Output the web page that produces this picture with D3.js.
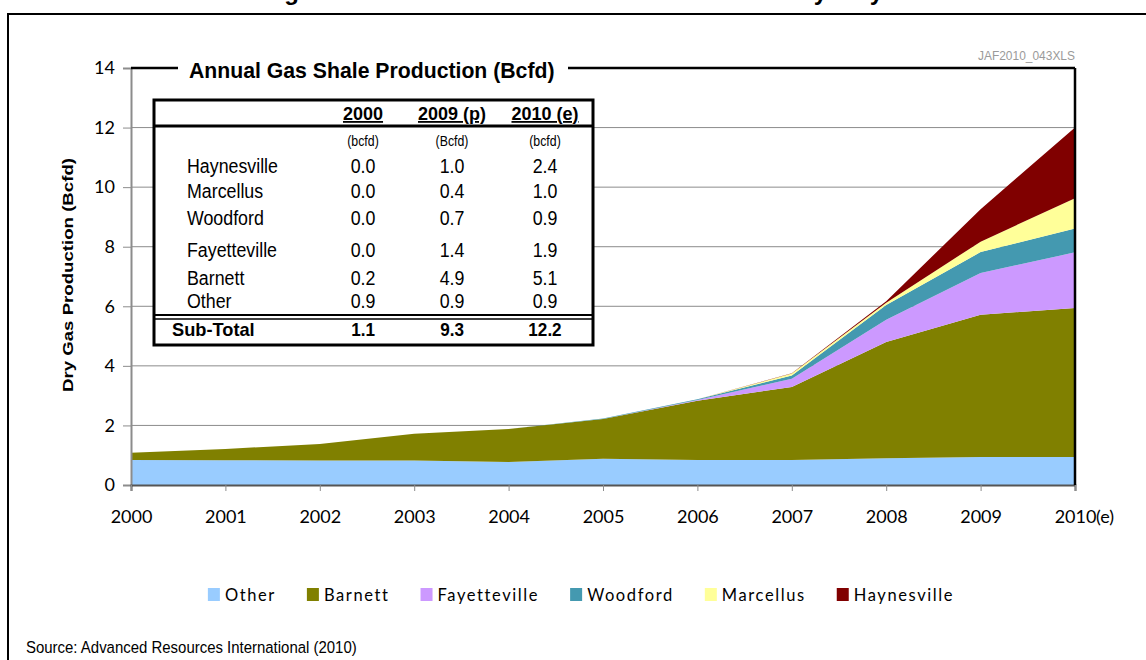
<!DOCTYPE html>
<html>
<head>
<meta charset="utf-8">
<script src="https://cdn.jsdelivr.net/npm/d3@7"></script>
<style>
  body { margin: 0; background: #fff; }
  svg { display: block; }
  text { font-family: "Liberation Sans", Arial, sans-serif; }
  .tick text { font-family: Lato, "Open Sans", sans-serif; font-size: 18px; fill: #000; }
</style>
</head>
<body>
<svg id="chart"></svg>
<script>
// chart data (Bcfd)
var years = [2000, 2001, 2002, 2003, 2004, 2005, 2006, 2007, 2008, 2009, 2010];
var other        = [0.84, 0.83, 0.82, 0.82, 0.77, 0.88, 0.84, 0.84, 0.90, 0.94, 0.94];
var barnett      = [0.24, 0.38, 0.56, 0.90, 1.11, 1.34, 1.99, 2.45, 3.90, 4.78, 5.00];
var fayetteville = [0, 0, 0, 0, 0, 0, 0.02, 0.28, 0.75, 1.40, 1.87];
var woodford     = [0, 0, 0, 0, 0, 0.01, 0.03, 0.11, 0.49, 0.70, 0.80];
var marcellus    = [0, 0, 0, 0, 0, 0, 0, 0.06, 0.08, 0.35, 1.02];
var haynesville  = [0, 0, 0, 0, 0, 0, 0, 0.01, 0.05, 1.09, 2.37];

var seriesNames = ["Other", "Barnett", "Fayetteville", "Woodford", "Marcellus", "Haynesville"];
var seriesColors = ["#99CCFF", "#808000", "#CC99FF", "#4499B0", "#FFFF99", "#800000"];
var yTicks = [0, 2, 4, 6, 8, 10, 12, 14];

// the inset table
var tableCols  = ["2000", "2009 (p)", "2010 (e)"];
var tableUnits = ["(bcfd)", "(Bcfd)", "(bcfd)"];
var tableNames = ["Haynesville", "Marcellus", "Woodford", "Fayetteville", "Barnett", "Other"];
var table2000  = ["0.0", "0.0", "0.0", "0.0", "0.2", "0.9"];
var table2009  = ["1.0", "0.4", "0.7", "1.4", "4.9", "0.9"];
var table2010  = ["2.4", "1.0", "0.9", "1.9", "5.1", "0.9"];
var subTotals  = ["1.1", "9.3", "12.2"];

const W = 1146, H = 660;
const margin = { top: 68, right: 71, bottom: 175, left: 131 },
  width = W - margin.left - margin.right,
  height = H - margin.top - margin.bottom;

const svg = d3.select("#chart")
  .attr("width", W)
  .attr("height", H);

// narrow text: regular font squeezed sideways (no Arial Narrow here)
function narrowText(sel, x, y, sx, str) {
  return sel.append("text")
    .attr("transform", "translate(" + x + "," + y + ") scale(" + sx + ",1)")
    .text(str);
}

// outer frame + clipped title at the very top
svg.append("text")
  .attr("x", 573).attr("y", 0)
  .attr("text-anchor", "middle")
  .style("font-weight", "bold").style("font-size", "24px")
  .text("Figure 2: Growth in U.S. Gas Shale Production by Play");
svg.append("rect")
  .attr("x", 8).attr("y", 14)
  .attr("width", W + 20).attr("height", H + 20)
  .attr("fill", "none").attr("stroke", "#000").attr("stroke-width", 2);

const g = svg.append("g")
  .attr("transform", "translate(" + margin.left + "," + margin.top + ")");

var x = d3.scaleLinear().domain([2000, 2010]).range([0, width]);
var y = d3.scaleLinear().domain([0, 14]).range([height, 0]);

// gridlines
g.selectAll("line.grid")
  .data(yTicks.filter(function (d) { return d > 0 && d < 14; }))
  .enter().append("line")
  .attr("class", "grid")
  .attr("x1", 0).attr("x2", width)
  .attr("y1", function (d) { return y(d); })
  .attr("y2", function (d) { return y(d); })
  .attr("stroke", "#8c8c8c").attr("stroke-width", 1);

// stacked areas
var rows = years.map(function (yr, i) {
  return {
    year: yr,
    Other: other[i], Barnett: barnett[i], Fayetteville: fayetteville[i],
    Woodford: woodford[i], Marcellus: marcellus[i], Haynesville: haynesville[i]
  };
});
var stacked = d3.stack().keys(seriesNames)(rows);
var area = d3.area()
  .x(function (d) { return x(d.data.year); })
  .y0(function (d) { return y(d[0]); })
  .y1(function (d) { return y(d[1]); });

g.selectAll("path.layer")
  .data(stacked)
  .enter().append("path")
  .attr("class", "layer")
  .attr("d", area)
  .attr("fill", function (d, i) { return seriesColors[i]; });

// axes
var yAxis = g.append("g")
  .call(d3.axisLeft(y).tickValues(yTicks).tickSize(8).tickPadding(8));
yAxis.select(".domain").attr("stroke", "#8c8c8c").attr("stroke-width", 2);
yAxis.selectAll(".tick line").attr("stroke", "#8c8c8c");

var xAxis = g.append("g")
  .attr("transform", "translate(0," + height + ")")
  .call(d3.axisBottom(x).tickValues(years).tickFormat(d3.format("d")).tickSize(6).tickPadding(26));
xAxis.select(".domain").attr("stroke", "#555").attr("stroke-width", 2);
xAxis.selectAll(".tick line").attr("stroke", "#8c8c8c");
xAxis.selectAll(".tick text").attr("dy", "0.35em");

g.append("text")
  .attr("x", width + 21).attr("y", height + 38)
  .style("font-family", "Lato, sans-serif").style("font-size", "18px")
  .text("(e)");

// top and right frame of the plot
g.append("line")
  .attr("x1", width).attr("x2", width).attr("y1", 0).attr("y2", height)
  .attr("stroke", "#000").attr("stroke-width", 2.5);
g.append("line")
  .attr("x1", 0).attr("x2", 47).attr("y1", 0).attr("y2", 0)
  .attr("stroke", "#000").attr("stroke-width", 2.5);
g.append("line")
  .attr("x1", 437).attr("x2", width).attr("y1", 0).attr("y2", 0)
  .attr("stroke", "#000").attr("stroke-width", 2.5);

narrowText(g, 58, 10, 0.965, "Annual Gas Shale Production (Bcfd)")
  .style("font-weight", "bold").style("font-size", "22px");

narrowText(g, width, -8, 0.92, "JAF2010_043XLS")
  .attr("text-anchor", "end")
  .style("font-size", "13px").attr("fill", "#9a9a9a");

// y axis title, stretched along its length like the picture
svg.append("text")
  .attr("transform", "translate(73,275) rotate(-90)")
  .attr("text-anchor", "middle")
  .attr("textLength", 234).attr("lengthAdjust", "spacingAndGlyphs")
  .style("font-weight", "bold").style("font-size", "15px")
  .text("Dry Gas Production (Bcfd)");

// inset table
const tb = svg.append("g");
tb.append("rect")
  .attr("x", 154).attr("y", 100).attr("width", 439).attr("height", 245)
  .attr("fill", "#fff").attr("stroke", "#000").attr("stroke-width", 3);
tb.append("line").attr("x1", 154).attr("x2", 593).attr("y1", 126).attr("y2", 126)
  .attr("stroke", "#000").attr("stroke-width", 3);
tb.append("line").attr("x1", 154).attr("x2", 593).attr("y1", 315).attr("y2", 315)
  .attr("stroke", "#000").attr("stroke-width", 2);
tb.append("line").attr("x1", 154).attr("x2", 593).attr("y1", 319).attr("y2", 319)
  .attr("stroke", "#000").attr("stroke-width", 1.5);

var colX = [363, 452, 545];
var rowY = [173, 198, 225, 257, 285, 308];
var colVals = [table2000, table2009, table2010];

tableCols.forEach(function (d, i) {
  narrowText(tb, colX[i], 120, 1, d)
    .attr("text-anchor", "middle")
    .style("font-weight", "bold").style("font-size", "18px")
    .style("text-decoration", "underline");
});

tableUnits.forEach(function (d, i) {
  narrowText(tb, colX[i], 146, 0.85, d)
    .attr("text-anchor", "middle")
    .style("font-size", "14.5px");
});

tableNames.forEach(function (d, i) {
  narrowText(tb, 187, rowY[i], 0.89, d).style("font-size", "20px");
});

colVals.forEach(function (vals, c) {
  vals.forEach(function (d, i) {
    narrowText(tb, colX[c], rowY[i], 0.89, d)
      .attr("text-anchor", "middle")
      .style("font-size", "20px");
  });
});

narrowText(tb, 172, 336, 0.96, "Sub-Total")
  .style("font-weight", "bold").style("font-size", "19px");
subTotals.forEach(function (d, i) {
  narrowText(tb, colX[i], 336, 0.9, d)
    .attr("text-anchor", "middle")
    .style("font-weight", "bold").style("font-size", "19px");
});

// legend
const lg = svg.append("g");
var lx = 0;
seriesNames.forEach(function (name, i) {
  var item = lg.append("g").attr("transform", "translate(" + lx + ",0)");
  item.append("rect")
    .attr("x", 0).attr("y", 588).attr("width", 12).attr("height", 13)
    .attr("fill", seriesColors[i]);
  var t = item.append("text")
    .attr("x", 17).attr("y", 601)
    .style("font-family", "Lato, sans-serif").style("font-size", "16.5px")
    .style("letter-spacing", "1.6px")
    .text(name);
  lx += 17 + t.node().getComputedTextLength() + 31;
});
var lgW = lx - 31;
lg.attr("transform", "translate(" + (581 - lgW / 2) + ",0)");

narrowText(svg, 26, 653, 0.88, "Source: Advanced Resources International (2010)")
  .style("font-size", "17px");
</script>
</body>
</html>
